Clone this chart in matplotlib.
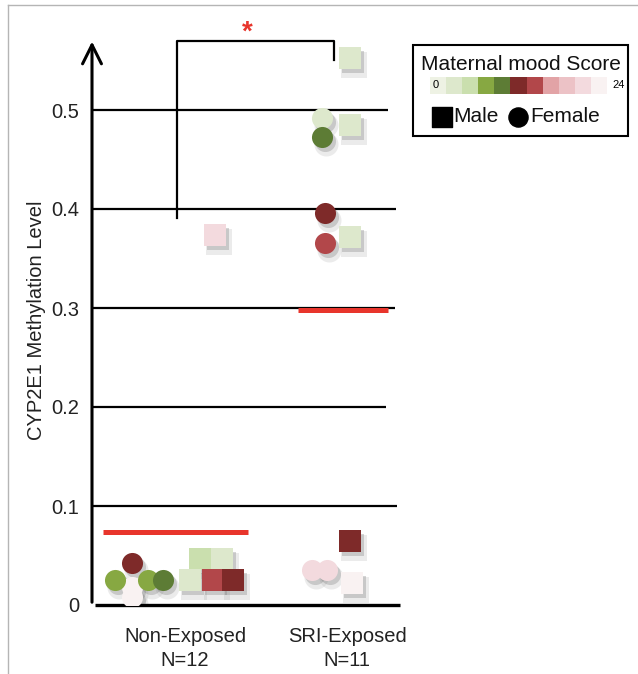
import matplotlib
matplotlib.use("Agg")
import matplotlib.pyplot as plt
import matplotlib.transforms as mtransforms
from matplotlib.colors import ListedColormap, BoundaryNorm
from matplotlib.patches import Rectangle
import numpy as np

plt.rcParams["font.family"] = ["Liberation Sans", "DejaVu Sans"]

# ---- data -------------------------------------------------------------
groups = ["Non-Exposed\nN=12", "SRI-Exposed\nN=11"]

# maternal mood score palette (0 -> 24)
mood_colors = ["#eef2e4", "#dde8cc", "#cadfae", "#87a842", "#5d7c35", "#7e2a29",
               "#b2474a", "#e2a3a6", "#ecc2c6", "#f3dade", "#f9f2f2"]

# each subject: group index, jitter, methylation, mood score, sex
grp = [1, 1, 1, 1, 1, 1, 1, 1, 1, 1, 1, 1,
       2, 2, 2, 2, 2, 2, 2, 2, 2, 2, 2]
jitter = [0.185, -0.327, -0.327, -0.327, -0.432, -0.228, -0.136, 0.093, 0.228, 0.031, 0.173, 0.296,
          0.019, 0.019, 0.019, 0.019, 0.031, -0.154, -0.154, -0.136, -0.136, -0.216, -0.123]
methylation = [0.374, 0.008, 0.018, 0.042, 0.025, 0.025, 0.025, 0.046, 0.046, 0.025, 0.025, 0.025,
               0.553, 0.485, 0.372, 0.065, 0.022, 0.492, 0.473, 0.396, 0.366, 0.035, 0.035]
mood = [21, 23, 23, 12, 8, 8, 10, 5, 3, 3, 14, 12,
        3, 3, 3, 12, 23, 3, 10, 12, 14, 21, 21]
sex = ["M", "F", "F", "F", "F", "F", "F", "M", "M", "M", "M", "M",
       "M", "M", "M", "M", "M", "F", "F", "F", "F", "F", "F"]

group_means = [0.074, 0.298]
mean_span = [(0.494, 1.389), (1.698, 2.253)]

grid_levels = [0.1, 0.2, 0.3, 0.4, 0.5]
grid_ends = [2.309, 2.241, 2.296, 2.302, 2.253]

# significance bracket: left x, right x, left bottom, top, right bottom
bracket = (0.951, 1.920, 0.391, 0.570, 0.551)

# ---- figure -----------------------------------------------------------
W, H = 638, 674
fig = plt.figure(figsize=(W / 100, H / 100), dpi=100)

# overlay axes in pixel coords for frame and legend
ov = fig.add_axes([0, 0, 1, 1])
ov.set_xlim(0, W)
ov.set_ylim(H, 0)
ov.axis("off")
ov.plot([8, W], [5, 5], color="#b5b5b5", lw=1)
ov.plot([8, 8], [5, H], color="#b5b5b5", lw=1)

ax = fig.add_axes([92 / W, 69 / H, 308 / W, 0.575 * 990 / H])
ax.set_xlim(0.426, 2.327)
ax.set_ylim(0, 0.575)
for s in ax.spines.values():
    s.set_visible(False)

cmap = ListedColormap(mood_colors)
norm = BoundaryNorm(np.linspace(0, 24, len(mood_colors) + 1), cmap.N, clip=True)

x = np.array(grp) + np.array(jitter)
y = np.array(methylation)
c = cmap(norm(np.array(mood)))
is_m = np.array(sex) == "M"
sq_size, ci_size = 250, 230

shadow = mtransforms.offset_copy(ax.transData, fig=fig, x=3, y=-4, units="dots")
shadow2 = mtransforms.offset_copy(ax.transData, fig=fig, x=4, y=-7, units="dots")
for mk, sel, size in [("s", is_m, sq_size), ("o", ~is_m, ci_size)]:
    ax.scatter(x[sel], y[sel], s=size * 1.3, marker=mk, color="#888888", alpha=0.16,
               linewidths=0, transform=shadow2, zorder=2)
    ax.scatter(x[sel], y[sel], s=size, marker=mk, color="#777777", alpha=0.3,
               linewidths=0, transform=shadow, zorder=2)
for i in range(len(x)):
    mk = "s" if is_m[i] else "o"
    ax.scatter(x[i], y[i], s=sq_size if is_m[i] else ci_size, marker=mk, color=c[i],
               linewidths=0, zorder=3 + i * 0.01)

# grid lines and axes
ax.hlines(grid_levels, ax.get_xlim()[0], grid_ends, color="black", lw=1.6, zorder=1)
ax.hlines(0, ax.get_xlim()[0] + 0.02, 2.327, color="black", lw=2.4, clip_on=False)
ax.annotate("", xy=(ax.get_xlim()[0], 0.572), xytext=(ax.get_xlim()[0], 0),
            arrowprops=dict(arrowstyle="->", lw=2.2, color="black", mutation_scale=34),
            annotation_clip=False)

# group means
for m, (x0, x1) in zip(group_means, mean_span):
    ax.hlines(m, x0, x1, color="#e8352c", lw=3.6, zorder=4)

# significance bracket
bl, br, yl, yt, yr = bracket
ax.plot([bl, bl, br, br], [yl, yt, yt, yr], color="black", lw=1.6, clip_on=False)
ax.text((bl + br) / 2 - 0.05, yt + 0.008, "*", color="#e8352c", fontsize=20,
        ha="center", va="center", fontweight="bold")

ax.set_yticks([0] + grid_levels)
ax.set_yticklabels(["0", "0.1", "0.2", "0.3", "0.4", "0.5"], fontsize=14.5, color="#222222")
ax.tick_params(axis="y", length=0, pad=9)
ax.set_xticks([1, 2])
ax.set_xticklabels(groups, fontsize=14.5, color="#222222", linespacing=1.3)
ax.tick_params(axis="x", length=0, pad=16)
ax.set_ylabel("CYP2E1 Methylation Level", fontsize=14.5, color="#222222", labelpad=4)

# legend box
ov.add_patch(Rectangle((413, 45), 215, 91, fill=False, ec="black", lw=1.5))
ov.text(521, 64, "Maternal mood Score", fontsize=15, ha="center", va="center", color="#111111")
pw = (607 - 430) / len(mood_colors)
for k, col in enumerate(mood_colors):
    ov.add_patch(Rectangle((430 + k * pw, 77), pw, 17, color=col, lw=0))
ov.text(436, 85.5, "0", fontsize=8, ha="center", va="center")
ov.text(619, 85.5, "24", fontsize=8, ha="center", va="center")
ov.scatter([442], [117], marker="s", s=190, color="black")
ov.text(453, 117, "Male", fontsize=15, ha="left", va="center", color="#111111")
ov.scatter([518], [117], marker="o", s=190, color="black")
ov.text(530, 117, "Female", fontsize=15, ha="left", va="center", color="#111111")

fig.savefig("out.png", dpi=100)
